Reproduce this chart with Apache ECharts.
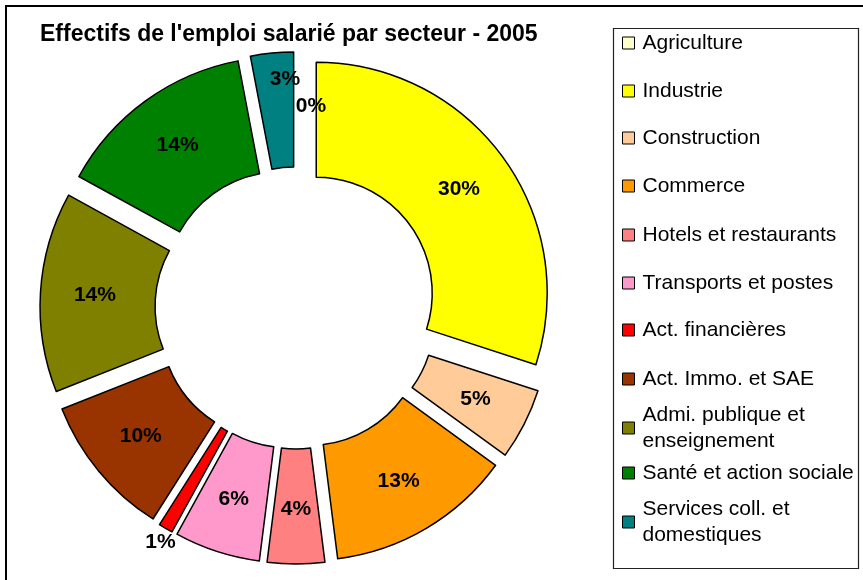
<!DOCTYPE html>
<html>
<head>
<meta charset="utf-8">
<script src="https://cdn.jsdelivr.net/npm/echarts@6/dist/echarts.min.js"></script>
<style>
html, body { margin: 0; padding: 0; background: #fff; }
#chart { width: 863px; height: 580px; }
</style>
</head>
<body>
<div id="chart"></div>
<script>
var categories = ['Agriculture', 'Industrie', 'Construction', 'Commerce', 'Hotels et restaurants',
  'Transports et postes', 'Act. financières', 'Act. Immo. et SAE', 'Admi. publique et enseignement',
  'Santé et action sociale', 'Services coll. et domestiques']
var shares = [0, 30, 5, 13, 4, 6, 1, 10, 14, 14, 3]

// palette + layout (kept apart from the data)
var colors = ['#FFFFCC', '#FFFF00', '#FFCC99', '#FF9900', '#FF8080', '#FF99CC',
  '#FF0000', '#993300', '#808000', '#008000', '#008080']
var legendRowY = [43, 91, 138, 186, 235, 283, 330, 379, 428, 473, 522]
// label nudges [dx, dy] for the few labels Excel put off-centre
var labelShift = { 0: [15, -2], 6: [-33, 61], 10: [8, -28] }
var font = 'Liberation Sans, Arial, sans-serif'

function wrapName (name) {
  return name.length > 24 ? name.replace(' et ', ' et\n') : name
}

var legends = categories.map(function (name, i) {
  var twoLines = wrapName(name) !== name
  return {
    data: [name],
    orient: 'vertical',
    left: 622,
    top: twoLines ? legendRowY[i] - 39 : legendRowY[i] - 12,
    padding: 0,
    icon: 'rect',
    itemWidth: 12,
    itemHeight: 12,
    selectedMode: false,
    itemStyle: { borderColor: '#000', borderWidth: 1 },
    formatter: wrapName,
    textStyle: {
      fontFamily: font,
      fontSize: 21,
      color: '#000',
      lineHeight: twoLines ? 26 : 24,
      padding: twoLines ? [26, 0, 0, 3] : [0, 0, 0, 3]
    }
  }
})

function pctText (v) {
  return Math.round(v) + '%'
}

var pieData = categories.map(function (name, i) {
  var item = {
    name: name,
    value: shares[i],
    selected: true,
    itemStyle: { color: colors[i] }
  }
  if (shares[i] < 0.5) item.itemStyle.borderWidth = 0
  var s = labelShift[i]
  if (s) {
    var dx = s[0]
    var dy = s[1]
    item.label = {
      padding: [0, dx < 0 ? -2 * dx : 0, 0, dx > 0 ? 2 * dx : 0],
      lineHeight: Math.abs(dy) >= 4 ? 2 * Math.abs(dy) : 24,
      formatter: function (p) {
        var t = pctText(p.value)
        if (Math.abs(dy) < 4) return t
        return dy > 0 ? '\n' + t : t + '\n'
      }
    }
  }
  return item
})

var myChart = echarts.init(document.getElementById('chart'))
myChart.setOption({
  backgroundColor: '#fff',
  animation: false,
  title: {
    text: "Effectifs de l'emploi salarié par secteur - 2005",
    left: 40,
    top: 23,
    padding: 0,
    textStyle: { fontFamily: font, fontSize: 23, fontWeight: 'bold', color: '#000' }
  },
  legend: legends,
  graphic: [
    {
      type: 'rect',
      silent: true,
      shape: { x: 6, y: 6, width: 900, height: 600 },
      style: { fill: 'none', stroke: '#000', lineWidth: 2 }
    },
    {
      type: 'rect',
      silent: true,
      shape: { x: 613.5, y: 28.5, width: 245, height: 540 },
      style: { fill: 'none', stroke: '#222', lineWidth: 1.2 }
    }
  ],
  series: [{
    type: 'pie',
    center: [296, 308],
    radius: [116, 231],
    startAngle: 90,
    clockwise: true,
    selectedMode: 'multiple',
    selectedOffset: 25,
    avoidLabelOverlap: false,
    labelLayout: { hideOverlap: false },
    emphasis: { disabled: true },
    itemStyle: { borderColor: '#000', borderWidth: 1.5 },
    label: {
      show: true,
      position: 'inside',
      color: '#000',
      fontFamily: font,
      fontSize: 21,
      fontWeight: 'bold',
      formatter: function (p) { return pctText(p.value) }
    },
    labelLine: { show: false },
    data: pieData
  }]
})
</script>
</body>
</html>
